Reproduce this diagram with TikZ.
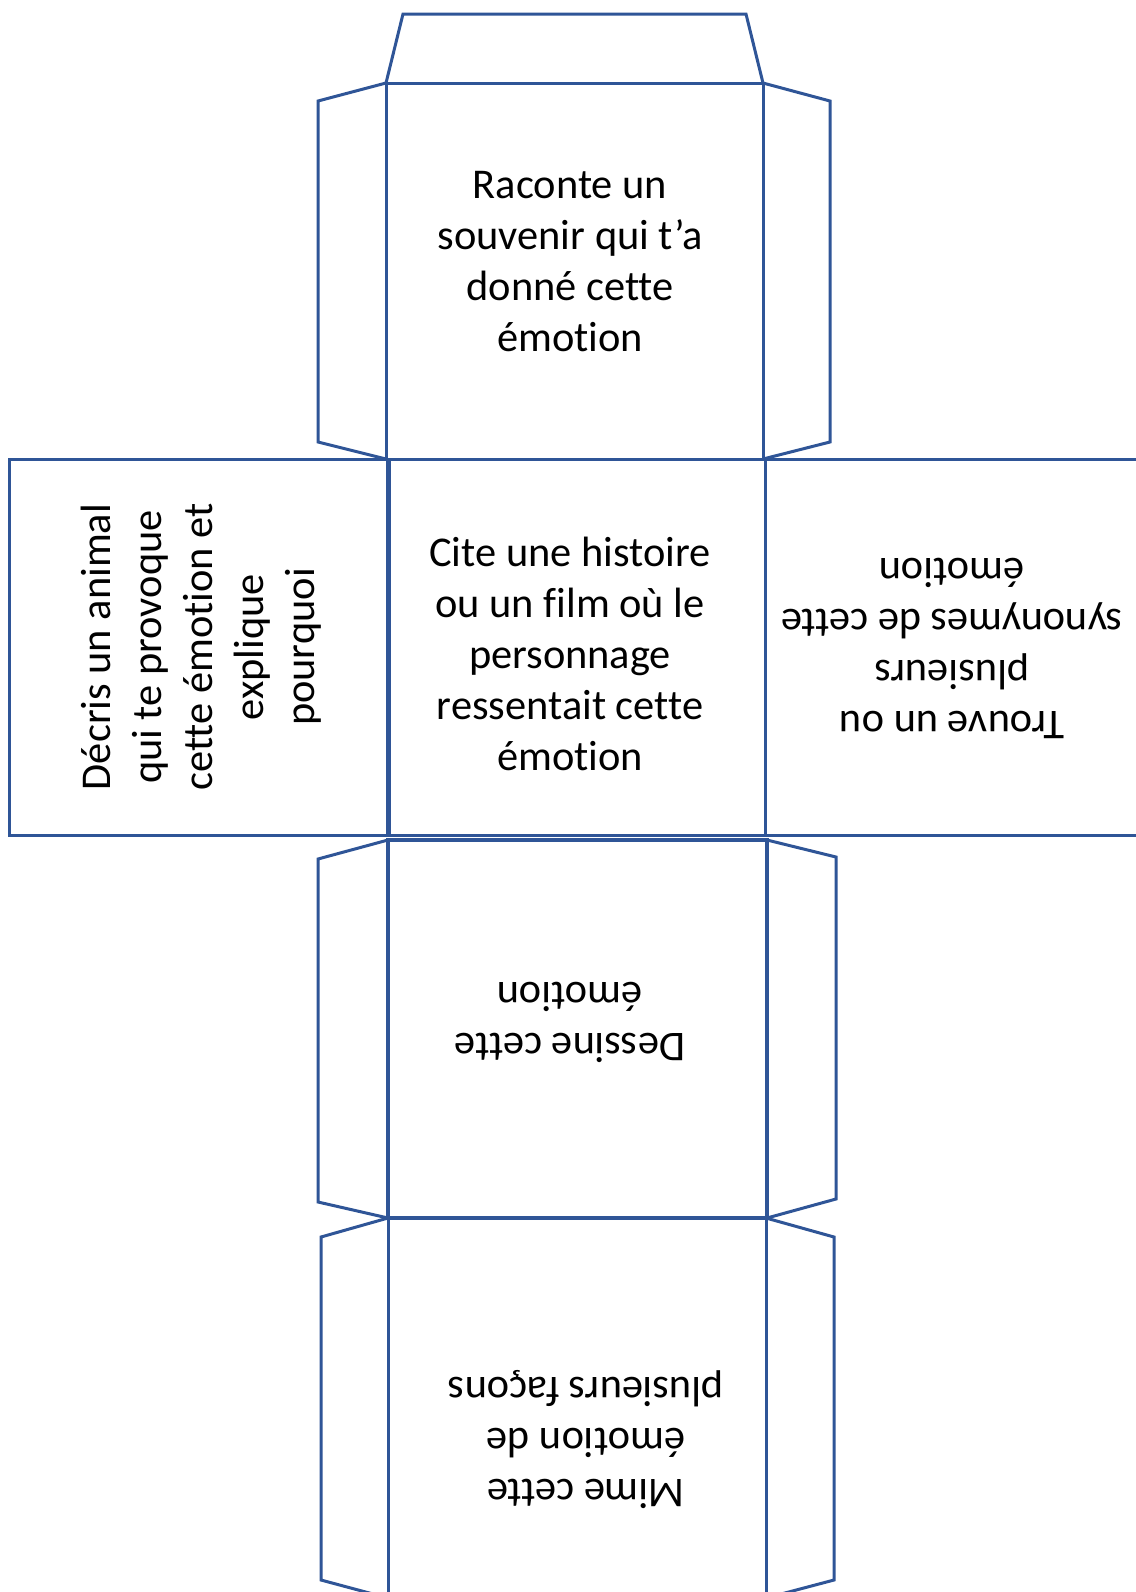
\documentclass[tikz,border=0pt]{standalone}
\usepackage{fontspec}
\setmainfont{Carlito}[Ligatures={NoCommon}]
\definecolor{netblue}{RGB}{47,85,151}
\tikzset{
  netline/.style={draw=netblue, line width=1.5pt, line join=miter},
  thickline/.style={draw=netblue, line width=2.2pt, line join=miter},
  facetext/.style={align=center, font=\fontsize{21.2}{25.5}\selectfont, inner sep=0pt}
}
\begin{document}
\begin{tikzpicture}[x=0.5pt,y=-0.5pt]
\useasboundingbox (0,0) rectangle (1136,1592);
\clip (0,0) rectangle (1136,1592);
% top flap
\draw[netline] (386,83) -- (403,14) -- (746,14) -- (763,83);
% top square
\draw[netline] (386,83) rectangle (763,459);
\draw[netline] (386,83) -- (318,101) -- (318,442) -- (386,459);
\draw[netline] (763,83) -- (830,101) -- (830,442) -- (763,459);
% middle row
\draw[netline] (9,459) rectangle (387,835);
\draw[netline] (389,459) rectangle (765,835);
\draw[netline] (765,459) rectangle (1142,835);
% lower square
\draw[thickline] (388,840) rectangle (767,1218);
\draw[netline] (388,840) -- (318,859) -- (318,1202) -- (388,1218);
\draw[netline] (767,840) -- (836,857) -- (836,1199) -- (767,1218);
% bottom square
\draw[netline] (388,1218) rectangle (766,1620);
\draw[netline] (388,1218) -- (321,1237) -- (321,1580) -- (388,1598);
\draw[netline] (766,1218) -- (834,1237) -- (834,1580) -- (766,1598);
% texts
\node[facetext] (t1) at (570,262) {Raconte un\\souvenir qui t’a\\donné cette\\émotion};
\node[facetext] (t2) at (570,654) {Cite une histoire\\ou un film où le\\personnage\\ressentait cette\\émotion};
\node[facetext, rotate=90] (t3) at (201,647) {Décris un animal\\qui te provoque\\cette émotion et\\explique\\pourquoi};
\node[facetext, rotate=180] (t4) at (952,648) {Trouve un ou\\plusieurs\\synonymes de cette\\émotion};
\node[facetext, rotate=180] (t5) at (570,1022) {Dessine cette\\émotion};
\node[facetext, rotate=180] (t6) at (586,1440) {Mime cette\\émotion de\\plusieurs façons};
\end{tikzpicture}
\end{document}
